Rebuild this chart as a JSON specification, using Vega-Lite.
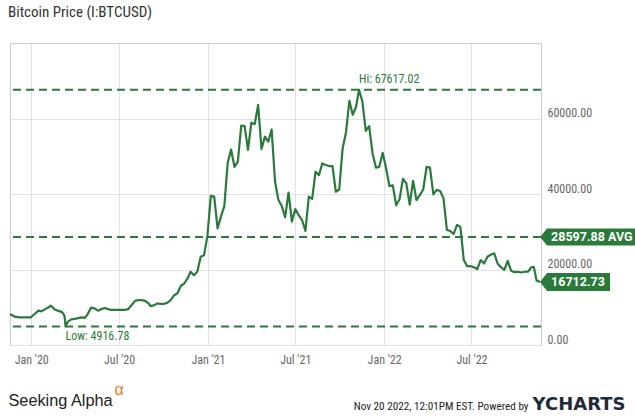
{
  "$schema": "https://vega.github.io/schema/vega-lite/v6.json",
  "width": 531,
  "height": 302,
  "autosize": {"type": "none"},
  "padding": {"left": 10, "top": 43, "right": 94, "bottom": 72},
  "background": "white",
  "config": {
    "view": {"stroke": "#cccccc", "strokeWidth": 1},
    "font": "Roboto Condensed, Liberation Sans Narrow, DejaVu Sans Condensed, Roboto"
  },
  "title": {
    "text": "Bitcoin Price (I:BTCUSD)",
    "anchor": "start",
    "frame": "group",
    "fontSize": 15,
    "fontWeight": "normal",
    "color": "#333333",
    "baseline": "alphabetic",
    "offset": 11,
    "dx": -2
  },
  "resolve": {"axis": {"x": "independent", "y": "independent"}},
  "datasets": {
    "price": [
      {"date": "2019-11-18", "price": 8200},
      {"date": "2019-11-28", "price": 7500},
      {"date": "2019-12-08", "price": 7300},
      {"date": "2019-12-18", "price": 7300},
      {"date": "2019-12-31", "price": 7300},
      {"date": "2020-01-08", "price": 8200},
      {"date": "2020-01-16", "price": 9100},
      {"date": "2020-01-22", "price": 8900},
      {"date": "2020-01-30", "price": 9500},
      {"date": "2020-02-06", "price": 10000},
      {"date": "2020-02-11", "price": 10400},
      {"date": "2020-02-18", "price": 9500},
      {"date": "2020-02-25", "price": 9100},
      {"date": "2020-03-05", "price": 8700},
      {"date": "2020-03-10", "price": 7700},
      {"date": "2020-03-12", "price": 4916.78},
      {"date": "2020-03-17", "price": 6200},
      {"date": "2020-03-24", "price": 6800},
      {"date": "2020-03-31", "price": 6900},
      {"date": "2020-04-07", "price": 7100},
      {"date": "2020-04-14", "price": 7300},
      {"date": "2020-04-21", "price": 7200},
      {"date": "2020-04-27", "price": 8200},
      {"date": "2020-05-04", "price": 9900},
      {"date": "2020-05-11", "price": 9700},
      {"date": "2020-05-18", "price": 9100},
      {"date": "2020-05-25", "price": 9500},
      {"date": "2020-06-01", "price": 9800},
      {"date": "2020-06-08", "price": 9500},
      {"date": "2020-06-15", "price": 9300},
      {"date": "2020-06-22", "price": 9300},
      {"date": "2020-06-29", "price": 9300},
      {"date": "2020-07-06", "price": 9300},
      {"date": "2020-07-13", "price": 9300},
      {"date": "2020-07-20", "price": 9500},
      {"date": "2020-07-27", "price": 10600},
      {"date": "2020-08-03", "price": 11700},
      {"date": "2020-08-10", "price": 11900},
      {"date": "2020-08-17", "price": 11900},
      {"date": "2020-08-24", "price": 11700},
      {"date": "2020-08-31", "price": 11000},
      {"date": "2020-09-04", "price": 10300},
      {"date": "2020-09-11", "price": 10500},
      {"date": "2020-09-18", "price": 11000},
      {"date": "2020-09-25", "price": 10900},
      {"date": "2020-10-02", "price": 10900},
      {"date": "2020-10-09", "price": 11200},
      {"date": "2020-10-16", "price": 11900},
      {"date": "2020-10-23", "price": 13200},
      {"date": "2020-10-30", "price": 13700},
      {"date": "2020-11-06", "price": 15700},
      {"date": "2020-11-13", "price": 16300},
      {"date": "2020-11-20", "price": 17700},
      {"date": "2020-11-26", "price": 19400},
      {"date": "2020-12-03", "price": 18500},
      {"date": "2020-12-10", "price": 19400},
      {"date": "2020-12-17", "price": 23400},
      {"date": "2020-12-24", "price": 23800},
      {"date": "2020-12-31", "price": 28900},
      {"date": "2021-01-07", "price": 39500},
      {"date": "2021-01-14", "price": 39300},
      {"date": "2021-01-21", "price": 30900},
      {"date": "2021-01-28", "price": 34000},
      {"date": "2021-02-04", "price": 36800},
      {"date": "2021-02-11", "price": 48300},
      {"date": "2021-02-18", "price": 51800},
      {"date": "2021-02-25", "price": 47200},
      {"date": "2021-03-04", "price": 48600},
      {"date": "2021-03-11", "price": 58100},
      {"date": "2021-03-18", "price": 58000},
      {"date": "2021-03-25", "price": 51700},
      {"date": "2021-04-01", "price": 58900},
      {"date": "2021-04-08", "price": 58500},
      {"date": "2021-04-15", "price": 63600},
      {"date": "2021-04-22", "price": 51900},
      {"date": "2021-04-29", "price": 55200},
      {"date": "2021-05-06", "price": 53900},
      {"date": "2021-05-13", "price": 57100},
      {"date": "2021-05-20", "price": 43300},
      {"date": "2021-05-27", "price": 38400},
      {"date": "2021-06-03", "price": 36800},
      {"date": "2021-06-10", "price": 33800},
      {"date": "2021-06-17", "price": 40400},
      {"date": "2021-06-24", "price": 32700},
      {"date": "2021-07-01", "price": 36000},
      {"date": "2021-07-08", "price": 34400},
      {"date": "2021-07-15", "price": 33100},
      {"date": "2021-07-22", "price": 30200},
      {"date": "2021-07-29", "price": 39300},
      {"date": "2021-08-05", "price": 38700},
      {"date": "2021-08-12", "price": 45900},
      {"date": "2021-08-19", "price": 45000},
      {"date": "2021-08-26", "price": 48100},
      {"date": "2021-09-02", "price": 47700},
      {"date": "2021-09-09", "price": 47400},
      {"date": "2021-09-16", "price": 47400},
      {"date": "2021-09-23", "price": 40600},
      {"date": "2021-09-30", "price": 41200},
      {"date": "2021-10-07", "price": 52000},
      {"date": "2021-10-14", "price": 56300},
      {"date": "2021-10-21", "price": 64700},
      {"date": "2021-10-28", "price": 61000},
      {"date": "2021-11-04", "price": 63100},
      {"date": "2021-11-10", "price": 67617.02},
      {"date": "2021-11-17", "price": 64500},
      {"date": "2021-11-24", "price": 56700},
      {"date": "2021-12-01", "price": 58000},
      {"date": "2021-12-08", "price": 50800},
      {"date": "2021-12-15", "price": 47000},
      {"date": "2021-12-22", "price": 47200},
      {"date": "2021-12-29", "price": 50900},
      {"date": "2022-01-05", "price": 46800},
      {"date": "2022-01-12", "price": 42100},
      {"date": "2022-01-19", "price": 42300},
      {"date": "2022-01-26", "price": 37000},
      {"date": "2022-02-02", "price": 38600},
      {"date": "2022-02-09", "price": 44000},
      {"date": "2022-02-16", "price": 42800},
      {"date": "2022-02-23", "price": 37200},
      {"date": "2022-03-02", "price": 43500},
      {"date": "2022-03-09", "price": 38400},
      {"date": "2022-03-16", "price": 39700},
      {"date": "2022-03-23", "price": 41200},
      {"date": "2022-03-30", "price": 47200},
      {"date": "2022-04-06", "price": 47000},
      {"date": "2022-04-13", "price": 39900},
      {"date": "2022-04-20", "price": 41100},
      {"date": "2022-04-27", "price": 40800},
      {"date": "2022-05-04", "price": 38900},
      {"date": "2022-05-11", "price": 30500},
      {"date": "2022-05-18", "price": 30200},
      {"date": "2022-05-25", "price": 29400},
      {"date": "2022-06-01", "price": 31800},
      {"date": "2022-06-08", "price": 31300},
      {"date": "2022-06-15", "price": 22500},
      {"date": "2022-06-22", "price": 20900},
      {"date": "2022-06-29", "price": 20900},
      {"date": "2022-07-06", "price": 20600},
      {"date": "2022-07-13", "price": 20100},
      {"date": "2022-07-20", "price": 22500},
      {"date": "2022-07-27", "price": 21600},
      {"date": "2022-08-03", "price": 23400},
      {"date": "2022-08-10", "price": 23900},
      {"date": "2022-08-17", "price": 24300},
      {"date": "2022-08-24", "price": 21600},
      {"date": "2022-08-31", "price": 20600},
      {"date": "2022-09-07", "price": 19900},
      {"date": "2022-09-14", "price": 22300},
      {"date": "2022-09-21", "price": 19700},
      {"date": "2022-09-28", "price": 19300},
      {"date": "2022-10-05", "price": 19400},
      {"date": "2022-10-12", "price": 19200},
      {"date": "2022-10-19", "price": 19400},
      {"date": "2022-10-26", "price": 19400},
      {"date": "2022-11-02", "price": 20600},
      {"date": "2022-11-07", "price": 20700},
      {"date": "2022-11-13", "price": 17000},
      {"date": "2022-11-20", "price": 16712.73}
    ],
    "levels": [
      {"level": "hi", "price": 67617.02},
      {"level": "avg", "price": 28597.88},
      {"level": "low", "price": 4916.78}
    ],
    "notes": [
      {"kind": "hi", "date": "2021-11-10", "price": 67617.02, "label": "Hi: 67617.02"},
      {"kind": "low", "date": "2020-03-12", "price": 4916.78, "label": "Low: 4916.78"}
    ],
    "tags": [
      {"kind": "avg", "date": "2022-11-20", "price": 28597.88, "label": "28597.88 AVG"},
      {"kind": "last", "date": "2022-11-20", "price": 16712.73, "label": "16712.73"}
    ]
  },
  "layer": [
    {
      "data": {"name": "price"},
      "mark": {"type": "line", "color": "#2a7a3b", "strokeWidth": 2.2, "strokeJoin": "round"},
      "encoding": {
        "x": {
          "field": "date",
          "type": "temporal",
          "scale": {
            "type": "utc",
            "domain": [
              {"year": 2019, "month": 11, "date": 18, "utc": true},
              {"year": 2022, "month": 11, "date": 22, "utc": true}
            ]
          },
          "axis": {
            "orient": "bottom",
            "values": [
              {"year": 2020, "month": 1, "date": 1, "utc": true},
              {"year": 2020, "month": 7, "date": 1, "utc": true},
              {"year": 2021, "month": 1, "date": 1, "utc": true},
              {"year": 2021, "month": 7, "date": 1, "utc": true},
              {"year": 2022, "month": 1, "date": 1, "utc": true},
              {"year": 2022, "month": 7, "date": 1, "utc": true}
            ],
            "format": "%b '%y",
            "labelColor": "#666666",
            "labelFontSize": 12,
            "labelPadding": 9,
            "labelFlush": false,
            "labelOverlap": false,
            "ticks": false,
            "domain": false,
            "gridColor": "#e2e2e2",
            "title": "Seeking Alpha",
            "titleX": -2,
            "titleY": 60,
            "titleAlign": "left",
            "titleAnchor": "start",
            "titleBaseline": "alphabetic",
            "titleFont": "Liberation Sans",
            "titleFontSize": 16.3,
            "titleFontWeight": "normal",
            "titleColor": "#222222"
          }
        },
        "y": {
          "field": "price",
          "type": "quantitative",
          "scale": {"domain": [0, 80000], "nice": false, "zero": true},
          "axis": {
            "orient": "right",
            "values": [0, 20000, 40000, 60000],
            "format": ".2f",
            "labelColor": "#666666",
            "labelFontSize": 12,
            "labelPadding": 6,
            "labelBaseline": "alphabetic",
            "labelOffset": -2,
            "labelFlush": false,
            "ticks": false,
            "domain": false,
            "gridColor": "#e2e2e2",
            "title": "Nov 20 2022, 12:01PM EST.  Powered by",
            "titleAngle": 0,
            "titleX": -13,
            "titleY": 366,
            "titleAlign": "right",
            "titleBaseline": "alphabetic",
            "titleFontSize": 11.2,
            "titleFontWeight": "normal",
            "titleColor": "#222222"
          }
        }
      }
    },
    {
      "data": {"name": "levels"},
      "mark": {"type": "rule", "color": "#2a7a3b", "strokeWidth": 2, "strokeDash": [8, 5]},
      "encoding": {
        "y": {
          "field": "price",
          "type": "quantitative",
          "axis": {
            "orient": "left",
            "labels": false,
            "ticks": false,
            "domain": false,
            "grid": false,
            "title": "YCHARTS",
            "titleAngle": 0,
            "titleX": 615,
            "titleY": 366,
            "titleAlign": "right",
            "titleBaseline": "alphabetic",
            "titleFont": "DejaVu Sans",
            "titleFontSize": 18,
            "titleFontWeight": "bold",
            "titleColor": "#1f2a3a"
          }
        }
      }
    },
    {
      "data": {"name": "notes"},
      "transform": [{"filter": "datum.kind == 'hi'"}],
      "mark": {"type": "text", "color": "#2a7a3b", "fontSize": 12, "align": "left", "baseline": "bottom", "dy": -4},
      "encoding": {
        "x": {
          "field": "date",
          "type": "temporal",
          "axis": {
            "orient": "top",
            "labels": false,
            "ticks": false,
            "domain": false,
            "grid": false,
            "title": "α",
            "titleX": 104,
            "titleY": 351.5,
            "titleAlign": "left",
            "titleBaseline": "alphabetic",
            "titleFont": "Liberation Sans",
            "titleFontSize": 16,
            "titleFontWeight": "normal",
            "titleColor": "#f47b20"
          }
        },
        "y": {"field": "price", "type": "quantitative", "axis": null},
        "text": {"field": "label"}
      }
    },
    {
      "data": {"name": "notes"},
      "transform": [{"filter": "datum.kind == 'low'"}],
      "mark": {"type": "text", "color": "#2a7a3b", "fontSize": 12, "align": "left", "baseline": "top", "dy": 5},
      "encoding": {
        "x": {"field": "date", "type": "temporal", "axis": null},
        "y": {"field": "price", "type": "quantitative", "axis": null},
        "text": {"field": "label"}
      }
    },
    {
      "data": {"name": "tags"},
      "transform": [{"filter": "datum.kind == 'avg'"}],
      "mark": {"type": "point", "shape": "M0,0L0.7,-0.85L11,-0.85L11,0.85L0.7,0.85Z", "size": 400, "filled": true, "opacity": 1, "color": "#2a7a3b", "strokeWidth": 0},
      "encoding": {
        "x": {"field": "date", "type": "temporal", "axis": null},
        "y": {"field": "price", "type": "quantitative", "axis": null}
      }
    },
    {
      "data": {"name": "tags"},
      "transform": [{"filter": "datum.kind == 'last'"}],
      "mark": {"type": "point", "shape": "M0,0L0.7,-0.9L7,-0.9L7,0.9L0.7,0.9Z", "size": 400, "filled": true, "opacity": 1, "color": "#2a7a3b", "strokeWidth": 0},
      "encoding": {
        "x": {"field": "date", "type": "temporal", "axis": null},
        "y": {"field": "price", "type": "quantitative", "axis": null}
      }
    },
    {
      "data": {"name": "tags"},
      "mark": {"type": "text", "color": "white", "font": "Roboto", "fontWeight": "bold", "fontSize": 12.5, "align": "left", "baseline": "middle", "dx": 11},
      "encoding": {
        "x": {"field": "date", "type": "temporal", "axis": null},
        "y": {"field": "price", "type": "quantitative", "axis": null},
        "text": {"field": "label"}
      }
    }
  ]
}
